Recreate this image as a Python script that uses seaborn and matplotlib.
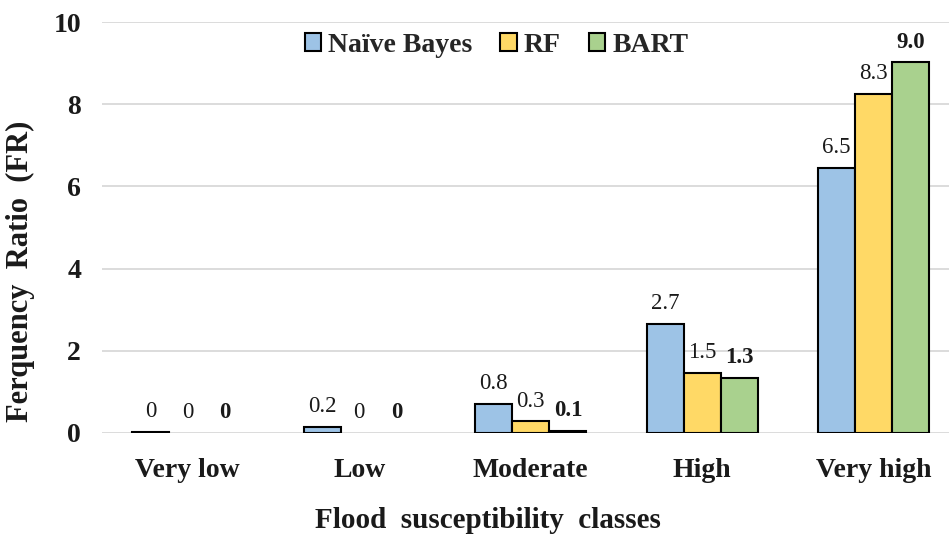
import matplotlib
matplotlib.use("Agg")
import matplotlib.pyplot as plt
import seaborn as sns
import pandas as pd

categories = ["Very low", "Low", "Moderate", "High", "Very high"]
models = ["Naïve Bayes", "RF", "BART"]
nb_values = [0.03, 0.15, 0.70, 2.65, 6.45]
rf_values = [0.0, 0.0, 0.28, 1.46, 8.25]
bart_values = [0.0, 0.0, 0.04, 1.33, 9.02]
nb_labels = ["0", "0.2", "0.8", "2.7", "6.5"]
rf_labels = ["0", "0", "0.3", "1.5", "8.3"]
bart_labels = ["0", "0", "0.1", "1.3", "9.0"]
colors = ["#9DC3E6", "#FFD966", "#A9D18E"]

sns.set_theme(style="white")
plt.rcParams["font.family"] = ["Liberation Serif", "DejaVu Serif"]

rows = []
for m, vals in zip(models, [nb_values, rf_values, bart_values]):
    for c, v in zip(categories, vals):
        rows.append({"Class": c, "Model": m, "FR": v})
df = pd.DataFrame(rows)

TXT = "#1a1a1a"
fig = plt.figure(figsize=(9.49, 5.41), dpi=100)
ax = fig.add_axes([102 / 949, 0.2, 857.5 / 949, 0.759])

sns.barplot(data=df, x="Class", y="FR", hue="Model", order=categories,
            hue_order=models, palette=colors, saturation=1, width=0.65, gap=0,
            edgecolor="black", linewidth=1.5, ax=ax, legend=True)

ax.set_ylim(0, 10)
ax.set_xlim(-0.5, 4.5)
ax.set_yticks(range(0, 11, 2))
ax.yaxis.grid(True, color="#D9D9D9", linewidth=1.3)
ax.set_axisbelow(True)
for s in ax.spines.values():
    s.set_visible(False)
ax.tick_params(axis="both", length=0)
ax.tick_params(axis="y", pad=15)
ax.tick_params(axis="x", pad=18)
for lab in ax.get_yticklabels():
    lab.set_fontweight("bold"); lab.set_fontsize(20); lab.set_color(TXT)
for lab in ax.get_xticklabels():
    lab.set_fontweight("bold"); lab.set_fontsize(20); lab.set_color(TXT)

ax.set_ylabel("Ferquency  Ratio  (FR)", fontsize=22, fontweight="bold", color=TXT)
ax.set_xlabel("Flood  susceptibility  classes", fontsize=21, fontweight="bold", color=TXT)
ax.yaxis.set_label_coords(-0.098, 0.394)
ax.xaxis.set_label_coords(0.45, -0.213)
ax.xaxis.label.set_va("center")
ax.yaxis.label.set_va("center")
ax.yaxis.label.set_ha("center")
ax.yaxis.set_label_coords(-0.098 + 0.003, 0.394)

all_labels = [nb_labels, rf_labels, bart_labels]
for i, cont in enumerate(ax.containers):
    weight = "bold" if i == 2 else "normal"
    for bar, txt in zip(cont, all_labels[i]):
        h = bar.get_height()
        if h == 0:
            bar.set_visible(False)
        ax.annotate(txt, (bar.get_x() + bar.get_width() / 2, h),
                    xytext=(0, 7), textcoords="offset points",
                    ha="center", va="bottom", fontsize=16.5,
                    fontweight=weight, color=TXT)

handles, labels = ax.get_legend_handles_labels()
ax.legend(handles, labels, loc="upper center", bbox_to_anchor=(0.46, 1.035),
          ncol=3, frameon=False, handlelength=0.6, handleheight=0.6,
          handletextpad=0.25, columnspacing=1.0,
          prop={"weight": "bold", "size": 20})

fig.savefig("out.png", dpi=100)
